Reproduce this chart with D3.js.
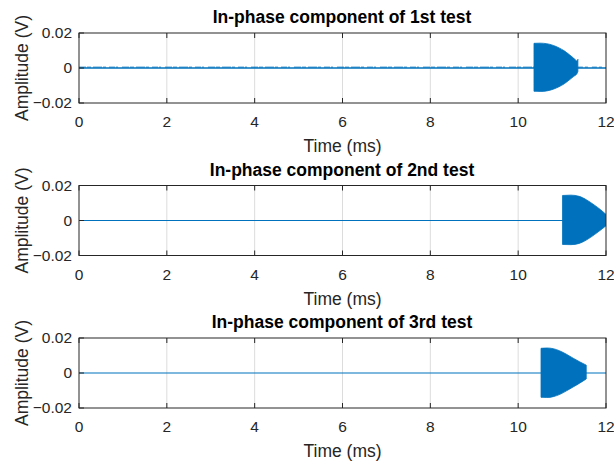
<!DOCTYPE html>
<html>
<head>
<meta charset="utf-8">
<script src="https://cdn.jsdelivr.net/npm/d3@7/dist/d3.min.js"></script>
<style>
  html, body { margin: 0; padding: 0; background: #fff; }
  svg { display: block; }
  text { font-family: "Liberation Sans", Arial, Helvetica, sans-serif; }
</style>
</head>
<body>
<svg id="chart" width="614" height="463"></svg>
<script>
// Panel titles
const titles = [
  "In-phase component of 1st test",
  "In-phase component of 2nd test",
  "In-phase component of 3rd test"
];

// Axis ticks
const xTicks = [0, 2, 4, 6, 8, 10, 12];
const yTicks = [-0.02, 0, 0.02];
const xDomain = [0, 12];
const yDomain = [-0.02, 0.02];

// Quiet-line level (V) before each burst
const baselineLevel = [0, 0, 0];
const noiseLevel = [0.0005, 0, 0];

// Burst envelopes: [time (ms), amplitude (V)] for the upper and lower edges
const burstUpper1 = [[10.36, 0.0141], [10.5, 0.0142], [10.65, 0.0139], [10.8, 0.0129], [10.93, 0.0115], [11.05, 0.0098], [11.16, 0.0077], [11.26, 0.0057], [11.34, 0.004], [11.36, 0.005]];
const burstLower1 = [[10.36, -0.0133], [10.5, -0.0134], [10.65, -0.0131], [10.8, -0.0121], [10.93, -0.0107], [11.05, -0.009], [11.16, -0.0069], [11.26, -0.0049], [11.34, -0.0032], [11.36, -0.002]];

const burstUpper2 = [[11.01, 0.0143], [11.2, 0.0145], [11.39, 0.0138], [11.55, 0.0119], [11.73, 0.0089], [11.87, 0.0063], [12.0, 0.0035]];
const burstLower2 = [[11.01, -0.0137], [11.2, -0.0138], [11.39, -0.0131], [11.55, -0.0112], [11.73, -0.0082], [11.87, -0.0056], [12.0, -0.003]];

const burstUpper3 = [[10.52, 0.0141], [10.65, 0.0143], [10.8, 0.0139], [10.95, 0.0126], [11.1, 0.0107], [11.25, 0.0085], [11.4, 0.0064], [11.55, 0.0045]];
const burstLower3 = [[10.52, -0.0139], [10.65, -0.014], [10.8, -0.0135], [10.95, -0.0122], [11.1, -0.0102], [11.25, -0.008], [11.4, -0.0058], [11.55, -0.0034]];

const bursts = [
  { upper: burstUpper1, lower: burstLower1 },
  { upper: burstUpper2, lower: burstLower2 },
  { upper: burstUpper3, lower: burstLower3 }
];

const svg = d3.select("#chart");
const left = 79, right = 606;
const panelTops = [33, 185.5, 338];
const panelH = 70;
const lineColor = "#0072BD";
const axisColor = "#262626";

const x = d3.scaleLinear().domain(xDomain).range([left, right]);

titles.forEach((title, i) => {
  const top = panelTops[i];
  const y = d3.scaleLinear().domain(yDomain).range([top + panelH, top]);
  const g = svg.append("g");

  // Vertical grid
  g.selectAll(".grid").data(xTicks.slice(1, -1)).join("line")
    .attr("x1", d => x(d)).attr("x2", d => x(d))
    .attr("y1", top).attr("y2", top + panelH)
    .attr("stroke", "#dcdcdc").attr("stroke-width", 1);

  const clipId = "clip" + i;
  g.append("clipPath").attr("id", clipId).append("rect")
    .attr("x", left).attr("y", top).attr("width", right - left).attr("height", panelH);
  const plot = g.append("g").attr("clip-path", `url(#${clipId})`);

  // Baseline
  plot.append("path")
    .datum(xDomain.map(t => [t, baselineLevel[i]]))
    .attr("d", d3.line().x(d => x(d[0])).y(d => y(d[1])))
    .attr("fill", "none").attr("stroke", lineColor)
    .attr("stroke-width", noiseLevel[i] > 0 ? 1.6 : 1.1);

  if (noiseLevel[i] > 0) {
    plot.append("path")
      .datum([[xDomain[0], noiseLevel[i]], [bursts[i].upper[0][0], noiseLevel[i]]])
      .attr("d", d3.line().x(d => x(d[0])).y(d => y(d[1])))
      .attr("fill", "none").attr("stroke", lineColor).attr("stroke-width", 1)
      .attr("stroke-dasharray", "7,1,4,2,9,1,3,3,6,1,2,4")
      .attr("opacity", 0.85);
    plot.append("path")
      .datum([[bursts[i].upper[bursts[i].upper.length - 1][0], noiseLevel[i]], [xDomain[1], noiseLevel[i]]])
      .attr("d", d3.line().x(d => x(d[0])).y(d => y(d[1])))
      .attr("fill", "none").attr("stroke", lineColor).attr("stroke-width", 1)
      .attr("stroke-dasharray", "5,2,3,4")
      .attr("opacity", 0.85);
  }

  // Burst envelope (dense oscillation drawn as its filled envelope)
  const b = bursts[i];
  const env = b.upper.map((p, k) => ({ t: p[0], hi: p[1], lo: b.lower[k][1] }));
  plot.append("path")
    .datum(env)
    .attr("d", d3.area().curve(d3.curveMonotoneX)
      .x(d => x(d.t)).y0(d => y(d.lo)).y1(d => y(d.hi)))
    .attr("fill", lineColor).attr("stroke", lineColor).attr("stroke-width", 0.8);

  // Box
  g.append("rect")
    .attr("x", left).attr("y", top).attr("width", right - left).attr("height", panelH)
    .attr("fill", "none").attr("stroke", axisColor).attr("stroke-width", 1);

  // Inward tick marks
  g.selectAll(".xt").data(xTicks).join("line")
    .attr("x1", d => x(d)).attr("x2", d => x(d))
    .attr("y1", top + panelH).attr("y2", top + panelH - 5)
    .attr("stroke", axisColor);
  g.selectAll(".xtt").data(xTicks).join("line")
    .attr("x1", d => x(d)).attr("x2", d => x(d))
    .attr("y1", top).attr("y2", top + 5)
    .attr("stroke", axisColor);
  g.selectAll(".yt").data(yTicks).join("line")
    .attr("x1", left).attr("x2", left + 5)
    .attr("y1", d => y(d)).attr("y2", d => y(d))
    .attr("stroke", axisColor);

  // Tick labels
  g.selectAll(".xl").data(xTicks).join("text")
    .attr("x", d => x(d)).attr("y", top + panelH + 24)
    .attr("text-anchor", "middle").attr("font-size", 15.5).attr("fill", axisColor)
    .text(d => d3.format("d")(d));
  g.selectAll(".yl").data(yTicks).join("text")
    .attr("x", left - 7).attr("y", d => y(d)).attr("dy", "0.35em")
    .attr("text-anchor", "end").attr("font-size", 15.5).attr("fill", axisColor)
    .text(d => d === 0 ? "0" : d3.format(".2f")(d));

  // Axis labels
  g.append("text")
    .attr("x", (left + right) / 2).attr("y", top + panelH + 49)
    .attr("text-anchor", "middle").attr("font-size", 17.5).attr("fill", axisColor)
    .text("Time (ms)");
  g.append("text")
    .attr("transform", `translate(28,${top + panelH / 2}) rotate(-90)`)
    .attr("text-anchor", "middle").attr("font-size", 17.5).attr("fill", axisColor)
    .text("Amplitude (V)");

  // Title
  g.append("text")
    .attr("x", 342).attr("y", top - 10)
    .attr("text-anchor", "middle").attr("font-size", 17.5).attr("font-weight", "bold")
    .attr("fill", "#000")
    .text(title);
});
</script>
</body>
</html>
